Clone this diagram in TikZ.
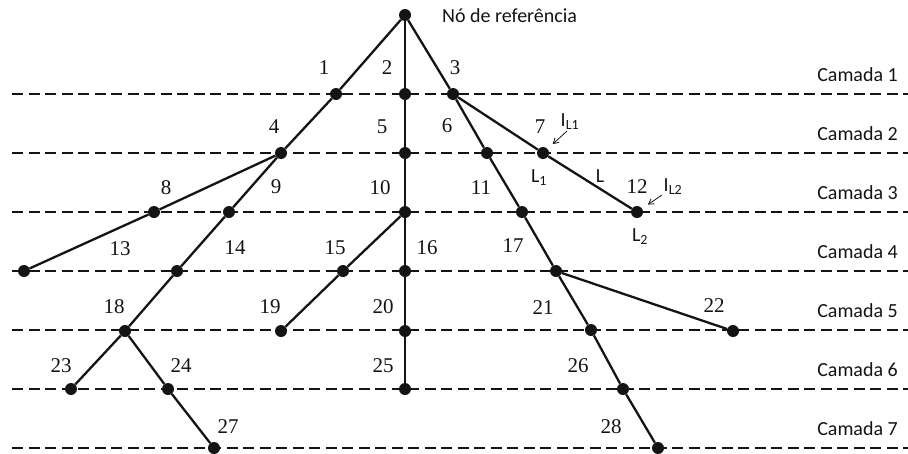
\documentclass[tikz,border=0pt]{standalone}
\usepackage{fontspec}
\setmainfont{Liberation Serif}
\setsansfont{Carlito}
\usetikzlibrary{arrows.meta}
\definecolor{inkblack}{RGB}{20,20,20}

\begin{document}
\begin{tikzpicture}[x=1pt, y=-1pt,
  dot/.style={circle, fill=inkblack, inner sep=0pt, minimum size=12pt},
  edge/.style={inkblack, line width=2.3pt},
  layer/.style={inkblack, line width=2.8pt, dash pattern=on 11pt off 5.5pt},
  num/.style={inkblack, font=\fontsize{21}{21}\selectfont, inner sep=0pt},
  lbl/.style={inkblack, font=\sffamily\fontsize{20}{20}\selectfont, inner sep=0pt},
  pointer/.style={inkblack, line width=0.8pt, -{Straight Barb[length=5pt, width=6pt]}}]
  \useasboundingbox (0,0) rectangle (908,453);

  % layers
  \foreach \k in {1,...,7} {
    \pgfmathsetmacro{\yy}{94+59*(\k-1)}
    \draw[layer] (12,\yy) -- (908,\yy);
    \node[lbl, anchor=east] (c\k) at (898,\yy-19) {Camada \k};
  }

  % nodes
  \node[dot] (r) at (405,15) {};
  \node[lbl, anchor=west] (ref) at (442,16) {Nó de referência};
  \foreach \i/\x/\y in {1/336/94, 2/405/94, 3/453/94,
      4/281/153, 5/405/153, 6/487/153, 7/543/153,
      8/154/212, 9/229/212, 10/405/212, 11/522/212, 12/637/212,
      13/24/271, 14/177/271, 15/343/271, 16/405/271, 17/556/271,
      18/125/331, 19/281/331, 20/405/331, 21/591/330, 22/733/331,
      23/71/389, 24/168/389, 25/405/389, 26/623/389,
      27/214/448, 28/658/448}
    \node[dot] (n\i) at (\x,\y) {};

  % branches
  \foreach \a/\b in {r/n1, r/n2, r/n3, n1/n4, n2/n5, n3/n6, n3/n7,
      n4/n8, n4/n9, n5/n10, n6/n11, n7/n12, n8/n13, n9/n14,
      n10/n15, n10/n16, n11/n17, n14/n18, n15/n19, n16/n20,
      n17/n21, n17/n22, n18/n23, n18/n24, n20/n25, n21/n26,
      n24/n27, n26/n28}
    \draw[edge] (\a) -- (\b);

  % branch numbers
  \foreach \t/\x/\y in {1/324/68, 2/387/68, 3/455/68,
      4/274/127, 5/382/127, 6/447/126, 7/540/127,
      8/166/188, 9/276/187, 10/380/188, 11/481/188, 12/637/187,
      13/120/249, 14/235/248, 15/335/248, 16/427/248, 17/513/246,
      18/114/307, 19/270/307, 20/383/307, 21/543/308, 22/714/306,
      23/61/366, 24/181/366, 25/383/366, 26/578/366,
      27/228/427, 28/611/427}
    \node[num] (b\t) at (\x,\y) {\t};

  \node[lbl] (l1) at (539,178) {L\textsubscript{1}};
  \node[lbl] (ll) at (600,176) {L};
  \node[lbl] (l2) at (640,237) {L\textsubscript{2}};
  \node[lbl] (il1) at (570,122) {I\textsubscript{L1}};
  \node[lbl] (il2) at (673,187) {I\textsubscript{L2}};

  \coordinate (p1) at (567,131);
  \coordinate (p2) at (662,195);
  \draw[pointer, shorten >=7pt] (p1) -- (n7);
  \draw[pointer, shorten >=7pt] (p2) -- (n12);
\end{tikzpicture}
\end{document}
